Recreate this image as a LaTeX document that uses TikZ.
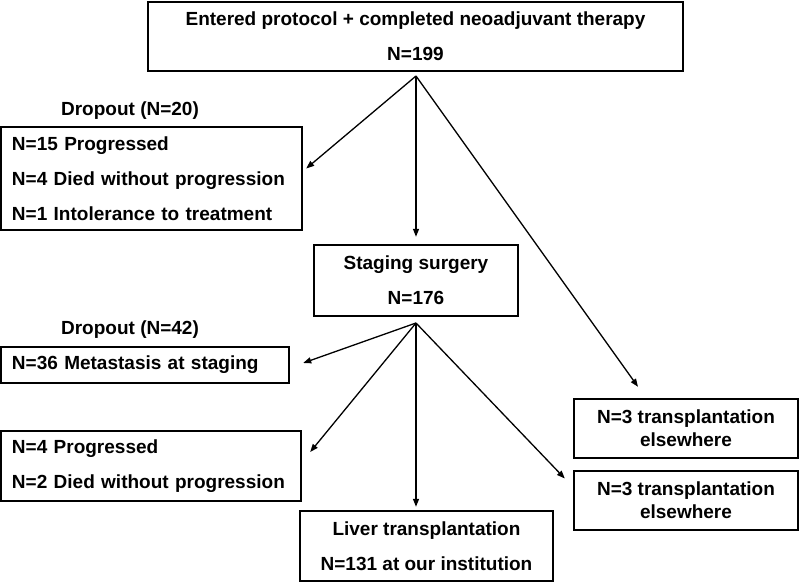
\documentclass[tikz,border=0pt]{standalone}
\usepackage{fontspec}
\setmainfont{Liberation Sans}
\usetikzlibrary{arrows.meta}

\begin{document}
\begin{tikzpicture}[x=1pt,y=-1pt,
	box/.style={draw,line width=2.4pt,inner sep=0pt,font=\bfseries\fontsize{19}{35}\selectfont},
	cbox/.style={box,align=center},
	lbox/.style={box,align=left,inner xsep=11pt},
	lab/.style={font=\bfseries\fontsize{19}{22}\selectfont},
	arr/.style={line width=1.3pt,-{Triangle[length=8pt,width=6pt]}}]
	\useasboundingbox (0,0) rectangle (800,583);

	\node[cbox,minimum width=535pt,minimum height=69pt] (entered) at (415.5,36.5) {Entered protocol + completed neoadjuvant therapy\\N=199};
	\node[lab] (d1lab) at (130,111) {Dropout (N=20)};
	\node[lbox,text width=279pt,minimum height=103pt] (drop1) at (151.5,178.5) {N=15 Progressed\\N=4 Died without progression\\N=1 Intolerance to treatment};
	\node[cbox,minimum width=204pt,minimum height=71pt] (stage) at (416,280.5) {Staging surgery\\N=176};
	\node[lab] (d2lab) at (130,330) {Dropout (N=42)};
	\node[lbox,text width=266pt,minimum height=36pt] (meta) at (145,365) {N=36 Metastasis at staging};
	\node[lbox,text width=278pt,minimum height=70pt] (prog) at (151,466) {N=4 Progressed\\N=2 Died without progression};
	\node[cbox,minimum width=253pt,minimum height=70pt] (liver) at (426.5,546) {Liver transplantation\\N=131 at our institution};
	\node[cbox,minimum width=224pt,minimum height=59pt,font=\bfseries\fontsize{19}{23}\selectfont] (else1) at (686,428.5) {N=3 transplantation\\elsewhere};
	\node[cbox,minimum width=224pt,minimum height=59pt,font=\bfseries\fontsize{19}{23}\selectfont] (else2) at (686,500.5) {N=3 transplantation\\elsewhere};

	\coordinate (s1) at (416,76);
	\coordinate (s2) at (416,323);

	\path [arr] (s1) edge ([shift={(3,-10)}]drop1.east);
	\path [arr] (s1) edge ([shift={(0,-7)}]stage.north);
	\path [arr] (s1) edge ([shift={(-48,-11)}]else1.north);
	\path [arr] (s2) edge ([shift={(13,-2)}]meta.east);
	\path [arr] (s2) edge ([shift={(8,-14)}]prog.east);
	\path [arr] (s2) edge ([shift={(-10.5,-3)}]liver.north);
	\path [arr] (s2) edge ([shift={(-8,-22)}]else2.west);
\end{tikzpicture}
\end{document}
